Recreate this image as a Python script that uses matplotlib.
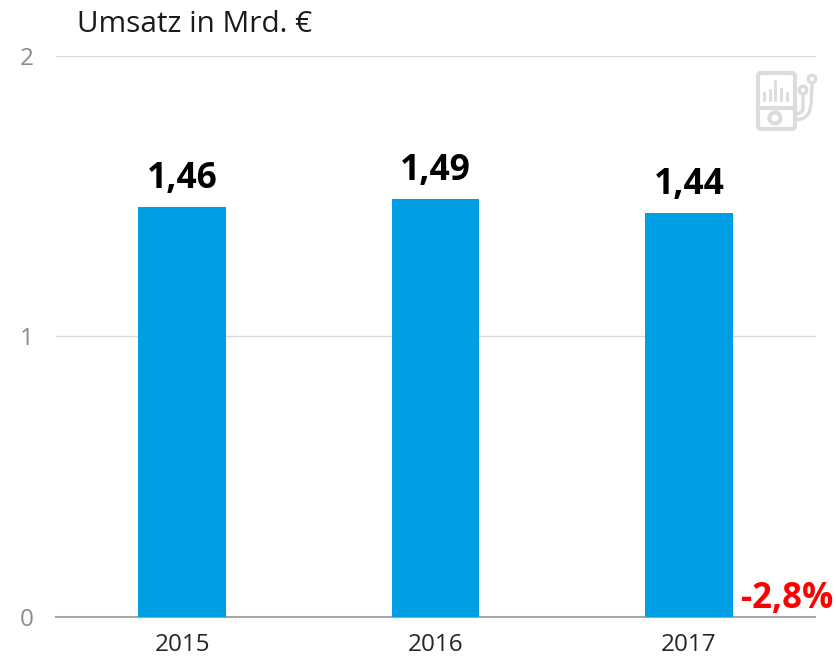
import matplotlib
matplotlib.use('Agg')
import matplotlib.pyplot as plt
from matplotlib.patches import Circle, FancyBboxPatch

plt.rcParams['font.family'] = ['Open Sans', 'DejaVu Sans']

# Data
years = ['2015', '2016', '2017']
umsatz = [1.46, 1.49, 1.44]
labels = ['1,46', '1,49', '1,44']
y_ticks = [0, 1, 2]

W, H = 836, 658
fig = plt.figure(figsize=(W / 100, H / 100), dpi=100)
ax = fig.add_axes([55.5 / W, 1 - 616.5 / H, 760 / W, 560.5 / H])

x = range(len(years))
ax.bar(x, umsatz, width=0.345, color='#009fe3', zorder=3)
ax.set_xlim(-0.5, 2.5)
ax.set_ylim(0, 2)

# Value labels above the bars
for i, val in enumerate(umsatz):
    ax.annotate(labels[i], (i, val), xytext=(0, 7.5), textcoords='offset points',
                ha='center', va='bottom', fontsize=25.5, fontweight='bold',
                color='black', zorder=4)

ax.set_xticks(list(x), years)
ax.set_yticks(y_ticks, [str(t) for t in y_ticks])
ax.tick_params(axis='x', length=0, pad=12, labelsize=17.5, labelcolor='#262626')
ax.tick_params(axis='y', length=0, pad=16, labelsize=17.5, labelcolor='#8c8c8c')
ax.grid(axis='y', color='#d9d9d9', linewidth=1, zorder=0)
for side in ['top', 'right', 'left']:
    ax.spines[side].set_visible(False)
ax.spines['bottom'].set_color('#a6a6a6')
ax.spines['bottom'].set_linewidth(1.5)

fig.text(77 / W, 1 - 24 / H, 'Umsatz in Mrd. €', fontsize=21.4, color='#1a1a1a',
         ha='left', va='center')
fig.text(787 / W, 1 - 599 / H, '-2,8%', fontsize=25, fontweight='bold', color='#ff0000',
         ha='center', va='center')

# Player icon in the corner, overlay in pixel coordinates
ov = fig.add_axes([0, 0, 1, 1], facecolor='none')
ov.set_xlim(0, W)
ov.set_ylim(H, 0)
ov.axis('off')
grey = '#dcdcdc'
ov.add_patch(FancyBboxPatch((758, 73), 37, 56, boxstyle='round,pad=0,rounding_size=3',
                            fill=False, ec=grey, lw=3))
ov.plot([758, 795], [108, 108], color=grey, lw=3)
ov.add_patch(Circle((775, 118), 5.5, fill=False, ec=grey, lw=3))
for bx, top in zip([764, 769.5, 775, 781, 787], [93, 90, 81, 89, 93]):
    ov.plot([bx, bx], [top, 100], color=grey, lw=2)
ov.add_patch(Circle((803, 90), 3.8, fill=False, ec=grey, lw=2.4))
ov.add_patch(Circle((812, 79), 3.8, fill=False, ec=grey, lw=2.4))
ov.plot([803, 803, 802, 797], [94, 108, 112, 114], color=grey, lw=2.4)
ov.plot([812, 811, 809, 804, 797], [83, 105, 113, 118, 120], color=grey, lw=2.4)

fig.savefig('out.png', dpi=100)
